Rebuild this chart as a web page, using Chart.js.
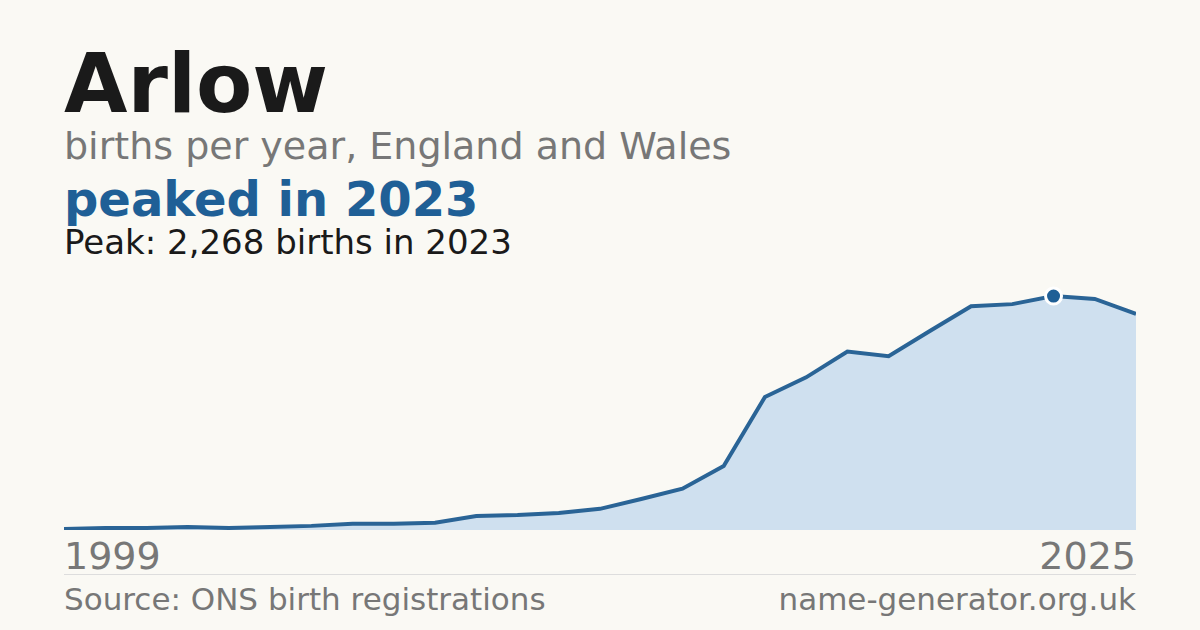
<!DOCTYPE html>
<html><head><meta charset="utf-8">
<script src="https://cdn.jsdelivr.net/npm/chart.js@4"></script>
<style>
body{margin:0;width:1200px;height:630px;background:#faf9f4;font-family:"DejaVu Sans",sans-serif;position:relative;overflow:hidden}
.t{position:absolute;left:64px;white-space:nowrap}
#c{position:absolute;left:64px;top:280px;width:1072px;height:250px}
</style></head><body>
<div class="t" style="top:36px;font-size:82px;font-weight:bold;color:#1a1a1a">Arlow</div>
<div class="t" style="top:124px;font-size:38px;color:#777">births per year, England and Wales</div>
<div class="t" style="top:171px;font-size:48px;font-weight:bold;color:#1f5f96">peaked in 2023</div>
<div class="t" style="top:222px;font-size:34px;color:#1a1a1a">Peak: 2,268 births in 2023</div>
<div id="c"><canvas id="cv"></canvas></div>
<div class="t" id="l0" style="top:534px;font-size:38px;color:#777"></div>
<div class="t" id="l1" style="top:534px;left:auto;right:64px;font-size:38px;color:#777"></div>
<div style="position:absolute;left:64px;width:1072px;top:574px;border-top:1px solid #ddd"></div>
<div class="t" style="top:581px;font-size:31px;color:#777">Source: ONS birth registrations</div>
<div class="t" style="top:581px;left:auto;right:64px;font-size:31px;color:#777">name-generator.org.uk</div>
<script>
const years=[1999,2000,2001,2002,2003,2004,2005,2006,2007,2008,2009,2010,2011,2012,2013,2014,2015,2016,2017,2018,2019,2020,2021,2022,2023,2024,2025];
const births=[10,20,20,30,20,30,40,60,60,70,135,145,165,205,300,400,620,1290,1480,1730,1685,1930,2170,2190,2268,2240,2095];
const tickLabels=["1999","2025"];
const peakYear=2023;
document.getElementById('l0').textContent=tickLabels[0];
document.getElementById('l1').textContent=tickLabels[1];
const pi=years.indexOf(peakYear);
new Chart(document.getElementById('cv'),{type:'line',
data:{labels:years,datasets:[{data:births,borderColor:'#2a6496',borderWidth:4,backgroundColor:'#cfe0ef',fill:'origin',tension:0,clip:false,
pointRadius:births.map((v,i)=>i===pi?8:0),pointBackgroundColor:'#1f5f96',pointBorderColor:'#fff',pointBorderWidth:3}]},
options:{responsive:true,maintainAspectRatio:false,animation:false,layout:{padding:0},
plugins:{legend:{display:false},tooltip:{enabled:false}},
scales:{x:{display:false,offset:false},y:{display:false,min:0,max:2424}}}});
</script></body></html>
